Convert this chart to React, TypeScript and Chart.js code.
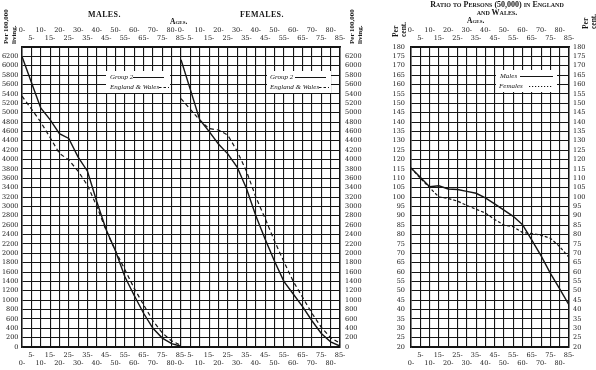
import React, { useEffect, useRef } from "react";
import { Chart, registerables } from "chart.js";

Chart.register(...registerables);

// Ages (start of each five-year group)
const ages = [0, 5, 10, 15, 20, 25, 30, 35, 40, 45, 50, 55, 60, 65, 70, 75, 80, 85];

// Per 100,000 living
const malesGroup2 = [6200, 5650, 5100, 4850, 4550, 4450, 4050, 3750, 3100, 2500, 2050, 1500, 1100, 720, 400, 190, 70, 15];
const malesEngland = [5350, 5080, 4800, 4470, 4130, 3990, 3750, 3450, 3000, 2480, 2050, 1650, 1250, 900, 560, 300, 130, 35];
const femalesGroup2 = [6130, 5490, 4850, 4600, 4330, 4120, 3840, 3380, 2800, 2300, 1830, 1400, 1130, 860, 560, 290, 110, 20];
const femalesEngland = [5300, 5070, 4840, 4660, 4630, 4520, 4180, 3750, 3200, 2740, 2260, 1820, 1400, 1060, 720, 420, 200, 80];

// Ratio to persons (50,000) in England and Wales, per cent
const ratioMales = [115.5, 110.5, 105.5, 106, 104.3, 104, 103, 102, 99.5, 96.3, 93, 89.7, 85.2, 77, 68.6, 59.3, 51, 42.5];
const ratioFemales = [115.5, 110, 105, 100, 99.2, 97.8, 95.5, 93.5, 91.5, 88, 85, 84.2, 81, 80.5, 79.6, 78, 73.5, 67.8];

const INK = "#151515";
const tickFont = { family: "'DejaVu Serif', serif", size: 6.5, lineHeight: 8 / 6.5 };

const pts = (ys: number[]) => ages.map((a, i) => ({ x: a, y: ys[i] }));

const solid = (label: string, ys: number[]) => ({
  label,
  data: pts(ys),
  borderColor: INK,
  borderWidth: 1.4,
  pointRadius: 0,
  fill: false,
  tension: 0,
});
const dashed = (label: string, ys: number[], dash: number[]) => ({
  ...solid(label, ys),
  borderWidth: 1.2,
  borderDash: dash,
});

const bottomLabel = (v: number) => (v % 10 === 0 ? ["", `${v}-`] : [`${v}-`, ""]);
const topLabel = (v: number) => (v % 10 === 0 ? [`${v}-`, ""] : ["", `${v}-`]);

function xAxes(): any {
  return {
    x: {
      type: "linear",
      position: "bottom",
      min: 0,
      max: 85,
      ticks: { stepSize: 5, autoSkip: false, maxRotation: 0, padding: 4, color: INK, font: tickFont, callback: bottomLabel },
      grid: { color: INK, lineWidth: 1.1, drawTicks: false },
      border: { display: true, color: INK, width: 1.5 },
      afterFit: (s: any) => {
        s.height = 23;
        s.paddingLeft = 0;
        s.paddingRight = 0;
      },
    },
    xTop: {
      type: "linear",
      position: "top",
      min: 0,
      max: 85,
      ticks: { stepSize: 5, autoSkip: false, maxRotation: 0, padding: 5, color: INK, font: tickFont, callback: topLabel },
      grid: { display: false, drawTicks: false },
      border: { display: true, color: INK, width: 1.5 },
      afterFit: (s: any) => {
        s.height = 47;
        s.paddingLeft = 0;
        s.paddingRight = 0;
      },
    },
  };
}

function yAxis(position: string, min: number, max: number, step: number, width: number, pad: number, hideTop: boolean, grid: boolean): any {
  return {
    type: "linear",
    position,
    min,
    max,
    ticks: {
      stepSize: step,
      autoSkip: false,
      padding: pad,
      color: INK,
      font: tickFont,
      callback: (v: number) => (hideTop && v === max ? "" : String(v)),
    },
    grid: grid ? { color: INK, lineWidth: 1, drawTicks: false } : { display: false, drawTicks: false },
    border: { display: true, color: INK, width: 1.5 },
    afterFit: (s: any) => {
      s.width = width;
      s.paddingTop = 0;
      s.paddingBottom = 0;
    },
  };
}

type LegendItem = { tx: number; ty: number; x1: number; x2: number; dash: number[] };
function legendPlugin(id: string, box: { x: number; y: number; w: number; h: number }, items: LegendItem[]) {
  return {
    id,
    afterDatasetsDraw(chart: any) {
      const ctx = chart.ctx;
      ctx.save();
      ctx.fillStyle = "#ffffff";
      ctx.fillRect(box.x, box.y, box.w, box.h);
      ctx.fillStyle = INK;
      ctx.strokeStyle = INK;
      ctx.font = "italic 7px 'Liberation Serif', serif";
      ctx.textBaseline = "middle";
      ctx.textAlign = "left";
      items.forEach((it, i) => {
        ctx.fillText(chart.data.datasets[i].label, it.tx, it.ty);
        ctx.setLineDash(it.dash);
        ctx.lineWidth = 1;
        ctx.beginPath();
        ctx.moveTo(it.x1, it.ty + 0.5);
        ctx.lineTo(it.x2, it.ty + 0.5);
        ctx.stroke();
      });
      ctx.restore();
    },
  };
}

const baseOptions = (padding: any, scales: any): any => ({
  responsive: false,
  maintainAspectRatio: false,
  animation: false,
  layout: { padding },
  plugins: { legend: { display: false }, tooltip: { enabled: false } },
  scales,
});

export default function App() {
  const malesRef = useRef<HTMLCanvasElement>(null);
  const femalesRef = useRef<HTMLCanvasElement>(null);
  const ratioRef = useRef<HTMLCanvasElement>(null);

  useEffect(() => {
    const charts: Chart[] = [];

    // Males: canvas at x=0
    charts.push(
      new Chart(malesRef.current as HTMLCanvasElement, {
        type: "line",
        data: {
          datasets: [solid("Group 2", malesGroup2), dashed("England & Wales", malesEngland, [4, 3])] as any,
        },
        options: baseOptions(
          { left: 0, right: 9, top: 0, bottom: 0 },
          { ...xAxes(), y: yAxis("left", 0, 6400, 200, 22, 3.5, true, true) }
        ),
        plugins: [
          legendPlugin("legM", { x: 106, y: 71, w: 64, h: 22 }, [
            { tx: 110, ty: 77, x1: 133, x2: 164, dash: [] },
            { tx: 110, ty: 87, x1: 159, x2: 169, dash: [2.5, 2] },
          ]),
        ] as any,
      })
    );

    // Females: canvas at x=172
    const fo = 172;
    charts.push(
      new Chart(femalesRef.current as HTMLCanvasElement, {
        type: "line",
        data: {
          datasets: [solid("Group 2", femalesGroup2), dashed("England & Wales", femalesEngland, [4, 3])] as any,
        },
        options: baseOptions(
          { left: 9, right: 0, top: 0, bottom: 0 },
          { ...xAxes(), y: yAxis("right", 0, 6400, 200, 32, 5, true, true) }
        ),
        plugins: [
          legendPlugin("legF", { x: 267 - fo, y: 71, w: 64, h: 22 }, [
            { tx: 270 - fo, ty: 77, x1: 295 - fo, x2: 326 - fo, dash: [] },
            { tx: 270 - fo, ty: 87, x1: 319 - fo, x2: 329 - fo, dash: [2.5, 2] },
          ]),
        ] as any,
      })
    );

    // Ratio: canvas at x=376
    const ro = 376;
    charts.push(
      new Chart(ratioRef.current as HTMLCanvasElement, {
        type: "line",
        data: {
          datasets: [solid("Males", ratioMales), dashed("Females", ratioFemales, [3, 2])] as any,
        },
        options: baseOptions(
          { left: 0, right: 0, top: 0, bottom: 0 },
          {
            ...xAxes(),
            y: yAxis("left", 20, 180, 5, 35, 6, false, true),
            y2: yAxis("right", 20, 180, 5, 27, 4, false, false),
          }
        ),
        plugins: [
          legendPlugin("legR", { x: 496 - ro, y: 70, w: 61, h: 22 }, [
            { tx: 500 - ro, ty: 76, x1: 520 - ro, x2: 553 - ro, dash: [] },
            { tx: 499 - ro, ty: 86, x1: 529 - ro, x2: 553 - ro, dash: [1.2, 1.8] },
          ]),
        ] as any,
      })
    );

    return () => charts.forEach((c) => c.destroy());
  }, []);

  const serif = "'Liberation Serif', 'Times New Roman', serif";
  const abs = (l: number, t: number, extra: any = {}): any => ({
    position: "absolute",
    left: l,
    top: t,
    whiteSpace: "nowrap",
    color: INK,
    fontFamily: serif,
    ...extra,
  });
  const rotated = (l: number, t: number, size: number): any =>
    abs(l, t, {
      transform: "rotate(-90deg)",
      transformOrigin: "0 0",
      fontSize: size,
      fontWeight: "bold",
      lineHeight: "8px",
    });

  return (
    <div style={{ position: "absolute", left: 0, top: 0, width: 596, height: 370, background: "#fff", overflow: "hidden" }}>
      <canvas ref={malesRef} width={190} height={370} style={{ position: "absolute", left: 0, top: 0 }} />
      <canvas ref={femalesRef} width={200} height={370} style={{ position: "absolute", left: 172, top: 0 }} />
      <canvas ref={ratioRef} width={220} height={370} style={{ position: "absolute", left: 376, top: 0 }} />

      <div style={abs(88, 10, { fontSize: 8, fontWeight: "bold", lineHeight: "10px", letterSpacing: 0.4 })}>MALES.</div>
      <div style={abs(240, 10, { fontSize: 8, fontWeight: "bold", lineHeight: "10px", letterSpacing: 0.4 })}>FEMALES.</div>
      <div style={abs(170, 17, { fontSize: 7.5, fontWeight: "bold", lineHeight: "10px", fontVariant: "small-caps" })}>Ages.</div>

      <div style={rotated(2, 44, 7)}>
        Per 100,000
        <br />
        living.
      </div>
      <div style={rotated(348, 44, 7)}>
        Per 100,000
        <br />
        living.
      </div>

      <div style={abs(397, 0, { width: 200, textAlign: "center", fontSize: 8, fontWeight: "bold", lineHeight: "10px", fontVariant: "small-caps" })}>
        Ratio to Persons (50,000) in England
      </div>
      <div style={abs(397, 8, { width: 200, textAlign: "center", fontSize: 8, fontWeight: "bold", lineHeight: "10px", fontVariant: "small-caps" })}>
        and Wales.
      </div>
      <div style={abs(467, 16, { fontSize: 7.5, fontWeight: "bold", lineHeight: "10px", fontVariant: "small-caps" })}>Ages.</div>

      <div style={rotated(392, 37, 7.5)}>
        Per
        <br />
        cent.
      </div>
      <div style={rotated(582, 29, 7.5)}>
        Per
        <br />
        cent.
      </div>
    </div>
  );
}
